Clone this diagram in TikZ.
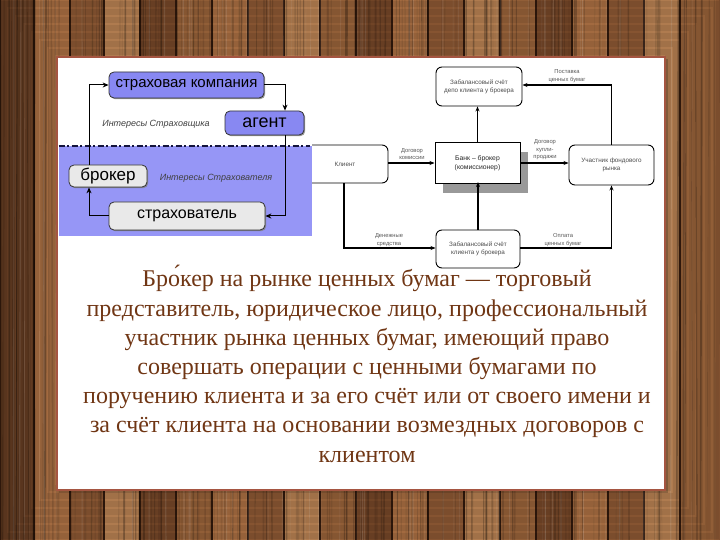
\documentclass[tikz,border=0pt]{standalone}
\usepackage{fontspec}
\setmainfont{Liberation Serif}
\newfontfamily\sansf{Liberation Sans}
\usetikzlibrary{shadows,arrows.meta}
\definecolor{wA}{RGB}{146,92,54}
\definecolor{wB}{RGB}{176,116,70}
\definecolor{wC}{RGB}{122,74,42}
\definecolor{wD}{RGB}{190,134,86}
\definecolor{wE}{RGB}{158,102,60}
\definecolor{wF}{RGB}{106,64,36}
\definecolor{wdark}{RGB}{50,26,12}
\definecolor{panelb}{RGB}{165,85,65}
\definecolor{bluebg}{RGB}{150,150,246}
\definecolor{boxblue}{RGB}{136,136,242}
\definecolor{boxgray}{RGB}{233,233,233}
\definecolor{navyl}{RGB}{20,20,60}
\definecolor{txtbrown}{RGB}{112,54,20}
\tikzset{
  lbox/.style={draw=black!80, rounded corners=5pt, line width=0.8pt,
    font=\sansf, inner sep=0pt,
    drop shadow={shadow xshift=1.2pt, shadow yshift=-1.2pt, fill=black!50, opacity=0.8}},
  bluebox/.style={lbox, fill=boxblue},
  graybox/.style={lbox, fill=boxgray},
  ilab/.style={font=\sansf\itshape\fontsize{9}{9}\selectfont, text=black!75},
  arrL/.style={-{Stealth[length=6pt,width=5pt]}, line width=1pt},
  rbox/.style={draw=black, line width=0.9pt, rounded corners=6pt, fill=white,
    align=center, font=\sansf\fontsize{6.3}{8}\selectfont, text=black!70, inner sep=0pt},
  rlab/.style={align=center, font=\sansf\fontsize{5.8}{7.4}\selectfont, text=black!65},
  arrR/.style={-{Stealth[length=5pt,width=4pt]}, line width=1.2pt},
  maintext/.style={align=center, font=\fontsize{24}{29.2}\selectfont, text=txtbrown}
}
\begin{document}
\begin{tikzpicture}[x=1pt,y=-1pt]
\useasboundingbox (0,0) rectangle (720,540);
% ---------- wood background ----------
\fill[wA] (0,0) rectangle (720,540);
\foreach \x/\c in {0/wF,34/wB,70/wA,104/wD,140/wC,176/wE,212/wB,248/wA,284/wD,320/wE,356/wC,392/wB,428/wA,464/wD,500/wE,536/wC,572/wB,608/wA,644/wD,680/wE}
  {\fill[\c] (\x,0) rectangle ++(36,540);
   \draw[wdark, line width=1.6pt] (\x,0) -- ++(0,540);}
\pgfmathsetseed{11}
\foreach \i in {1,...,160}{
  \pgfmathsetmacro\gx{720*rnd}
  \pgfmathsetmacro\gw{0.3+1.4*rnd}
  \pgfmathsetmacro\go{0.08+0.18*rnd}
  \draw[black, opacity=\go, line width=\gw pt] (\gx,0) -- (\gx+4*rnd-2,540);
}
\foreach \i in {1,...,60}{
  \pgfmathsetmacro\gx{720*rnd}
  \pgfmathsetmacro\gw{0.3+1.0*rnd}
  \draw[white, opacity=0.12, line width=\gw pt] (\gx,0) -- (\gx+3*rnd-1.5,540);
}
\foreach \k in {0,...,8}
  \draw[black, opacity=0.08, line width=14pt] (\k*8,\k*8) rectangle (720-\k*8,540-\k*8);
% ---------- panel ----------
\fill[black, opacity=0.2] (59,59) rectangle (668,493);
\draw[fill=white, draw=panelb, line width=1.5pt] (57,57) rectangle (665,490);

% ---------- right diagram ----------
\node[rbox, minimum width=86pt, minimum height=38pt] (client) at (345,164) {Клиент};
\node[rbox, rounded corners=0pt, line width=1pt, text=black!85, font=\sansf\fontsize{6.8}{8.6}\selectfont,
      minimum width=85pt, minimum height=41pt,
      drop shadow={shadow xshift=8pt, shadow yshift=-9.5pt, fill=black!40, opacity=1}]
      (bank) at (477.5,163) {Банк – брокер\\(комиссионер)};
\node[rbox, minimum width=86pt, minimum height=39pt] (depo) at (479,86.5)
      {Забалансовый счёт\\депо клиента у брокера};
\node[rbox, minimum width=85pt, minimum height=40pt] (part) at (611.5,165)
      {Участник фондового\\рынка};
\node[rbox, minimum width=84pt, minimum height=38pt] (acct) at (478,249)
      {Забалансовый счёт\\клиента у брокера};

\draw[arrR] (client.east |- bank.west) -- (bank.west);
\draw[arrR] (bank.east) -- (bank.east -| part.west);
\draw[arrR] (bank.north) -- (bank.north |- depo.south);
\draw[arrR] (part.north) |- ([yshift=1.5pt]depo.east);
\draw[arrR] ([xshift=-1pt]client.south) |- ([yshift=1pt]acct.west);
\draw[arrR] ([yshift=1pt]acct.east) -| (part.south);
\draw[arrR] (acct.north) -- ([yshift=2pt]acct.north |- bank.south);

\node[rlab] (l1) at (412,154) {Договор\\комиссии};
\node[rlab] (l2) at (545,150) {Договор\\купли-\\продажи};
\node[rlab] (l3) at (567,76) {Поставка\\ценных бумаг};
\node[rlab] (l4) at (389,240) {Денежные\\средства};
\node[rlab] (l5) at (563,240) {Оплата\\ценных бумаг};

% ---------- left diagram ----------
\fill[white] (58.5,58.5) rectangle (312,146);
\fill[bluebg] (58.5,146) rectangle (312,236);
\draw[navyl, line width=2.6pt, dash pattern=on 6pt off 2.5pt on 2pt off 2.5pt] (58.5,146) -- (310,146);

\node[bluebox, minimum width=155pt, minimum height=26pt, font=\sansf\fontsize{15}{16}\selectfont] (sk) at (186.5,85) {страховая компания};
\node[bluebox, minimum width=79pt, minimum height=24pt, font=\sansf\fontsize{18}{18}\selectfont] (agent) at (264.5,123) {агент};
\node[graybox, minimum width=78pt, minimum height=22pt, font=\sansf\fontsize{17}{17}\selectfont] (broker) at (108,176) {брокер};
\node[graybox, minimum width=156pt, minimum height=28pt, font=\sansf\fontsize{16}{16}\selectfont] (strah) at (187,216) {страхователь};

\node[ilab] (i1) at (156,124) {Интересы Страховщика};
\node[ilab] (i2) at (216,178) {Интересы Страхователя};

\draw[arrL] ([xshift=-19pt]broker.north) |- (sk.west);
\draw[arrL] (sk.east) -| ([xshift=20.5pt]agent.north);
\draw[arrL] ([xshift=20.5pt]agent.south) |- (strah.east);
\draw[arrL] (strah.west) -| ([xshift=-19pt]broker.south);

% ---------- main text ----------
\node[maintext] (txt) at (367,364) {Бро́кер на рынке ценных бумаг — торговый\\
представитель, юридическое лицо, профессиональный\\
участник рынка ценных бумаг, имеющий право\\
совершать операции с ценными бумагами по\\
поручению клиента и за его счёт или от своего имени и\\
за счёт клиента на основании возмездных договоров с\\
клиентом};
\end{tikzpicture}
\end{document}
